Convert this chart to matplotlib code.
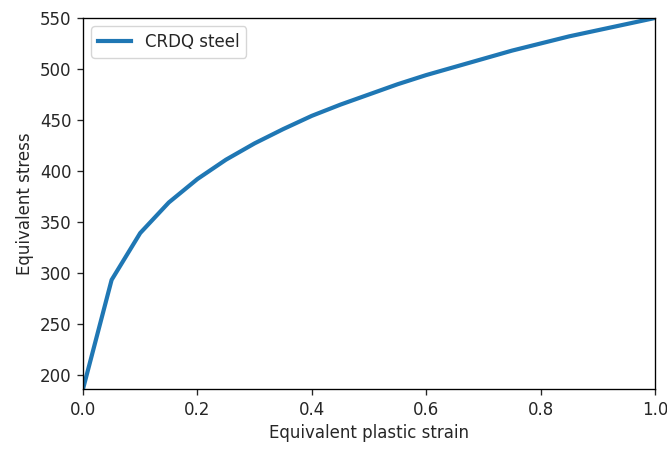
import numpy as np
import matplotlib
matplotlib.use('Agg')
import matplotlib.pyplot as plt

# equivalent plastic strain / stress
strain = [0.0, 0.05, 0.10, 0.15, 0.20, 0.25, 0.30, 0.35, 0.40, 0.45, 0.50,
          0.55, 0.60, 0.65, 0.70, 0.75, 0.80, 0.85, 0.90, 0.95, 1.0]
stress = [186, 293, 339, 369, 392, 411, 427, 441, 454, 465, 475,
          485, 494, 502, 510, 518, 525, 532, 538, 544, 550]

# reference looks like a default plot rendered ~1.2x larger
s = 1.2
plt.rcParams.update({
    'font.size': 10 * s,
    'axes.linewidth': 0.8 * s,
    'xtick.major.size': 3.5 * s,
    'ytick.major.size': 3.5 * s,
    'xtick.major.width': 0.8 * s,
    'ytick.major.width': 0.8 * s,
    'xtick.major.pad': 3.5 * s,
    'ytick.major.pad': 3.5 * s,
    'legend.fontsize': 10 * s,
    'text.color': '#262626',
    'xtick.color': '#262626',
    'ytick.color': '#262626',
    'axes.labelcolor': '#262626',
})

fig = plt.figure(figsize=(6.67, 4.49), dpi=100)
ax = fig.add_axes([83/667, 1 - 389/449, (655-83)/667, (389-18)/449])
ax.plot(strain, stress, color='#1f77b4', linewidth=3, label='CRDQ steel')
ax.set_xlim(0, 1)
ax.set_ylim(min(stress), max(stress))
ax.set_xlabel('Equivalent plastic strain')
ax.set_ylabel('Equivalent stress')
ax.legend(loc='upper left')
fig.savefig('out.png', dpi=100)
